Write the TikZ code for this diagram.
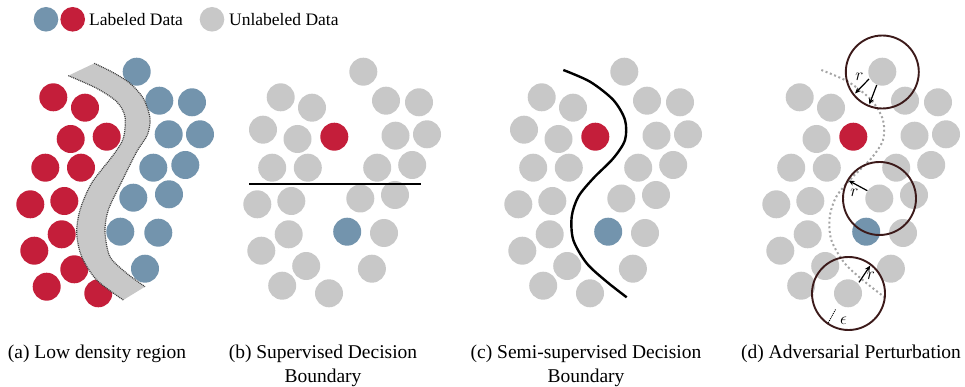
\documentclass[tikz,border=0pt]{standalone}
\usepackage{fontspec}
\setmainfont{Liberation Serif}
\usetikzlibrary{arrows.meta}
\definecolor{lblue}{RGB}{115,148,173}
\definecolor{lred}{RGB}{196,30,58}
\definecolor{lgray}{RGB}{200,200,200}
\definecolor{ringc}{RGB}{60,26,26}
\definecolor{dotc}{RGB}{165,165,165}
\def\grayset{363.3/71.7,280.7/97.3,312/107.7,386/100.7,419/102.3,297.5/139,395.5/135.7,427/134.3,272.2/167.7,307.8/167.7,377.2/167.7,412.2/165,257.3/204.3,291.3/201,360.3/198.5,395/195,288.7/234.3,384/233,261.3/250.7,306.2/266,371.9/268.7,282.2/285.7,329/293.3}
\def\abluepts{136.7/71.7,159.3/100.7,192/102.3,168.7/134.3,200/134.3,153.3/167.7,185.3/165,133.3/197.7,169/194.3,120.3/231.7,158.3/232.7,145/268.7}
\def\aredpts{53.3/97.3,85/107.7,70.7/139,106.7/136.7,45.3/167.7,81/167.7,30.3/204.3,64.3/201,61.7/234.3,34.3/250.7,74.3/269.3,46.7/286.7,98.3/293.3}
\begin{document}
\begin{tikzpicture}[x=1pt,y=-1pt,
  ring/.style={draw=ringc,line width=1.9pt},
  dotcurve/.style={draw=dotc,line width=2pt,dash pattern=on 2pt off 2.6pt},
  bandedge/.style={draw=black!75,line width=1.2pt,dash pattern=on 1pt off 0.9pt},
  rarrow/.style={-{Stealth[length=6pt,width=5pt]},line width=1.2pt},
  boundary/.style={draw=black,line width=2.4pt},
  capt/.style={font=\fontsize{19.5}{24}\selectfont,align=center,anchor=base,inner sep=0pt},
  leg/.style={font=\fontsize{17.5}{20}\selectfont,anchor=base west,inner sep=0pt},
  rlab/.style={font=\fontsize{17}{17}\selectfont,inner sep=0pt}]
\useasboundingbox (0,0) rectangle (965,387);

% legend
\fill[lblue] (46,19.3) circle[radius=12.3];
\fill[lred] (72.7,19.3) circle[radius=12.3];
\node[leg] (legL) at (89,26) {Labeled Data};
\fill[lgray] (212,19.3) circle[radius=12.3];
\node[leg] (legU) at (229,26) {Unlabeled Data};

% panel (a)
\foreach \x/\y in \abluepts {\fill[lblue] (\x,\y) circle[radius=14];}
\foreach \x/\y in \aredpts {\fill[lred] (\x,\y) circle[radius=14];}
\fill[lgray] plot[smooth] coordinates {(94.3,63.3) (113,72.5) (130,83.3) (143.3,98.3) (150,118.3) (147.3,135) (136.7,151.7) (121.5,182) (108.3,210) (105,231.7) (110,256.7) (126.7,273.3) (145,286.7)}
  -- plot[smooth] coordinates {(123.3,300) (96.7,280) (81.7,256.7) (76.7,233.3) (80,210) (91.7,183) (113.3,155) (123.3,138.3) (125,116.7) (116.7,101.7) (96.7,88.3) (68.3,75.7)} -- cycle;
\draw[bandedge] plot[smooth] coordinates {(94.3,63.3) (113,72.5) (130,83.3) (143.3,98.3) (150,118.3) (147.3,135) (136.7,151.7) (121.5,182) (108.3,210) (105,231.7) (110,256.7) (126.7,273.3) (145,286.7)};
\draw[bandedge] plot[smooth] coordinates {(123.3,300) (96.7,280) (81.7,256.7) (76.7,233.3) (80,210) (91.7,183) (113.3,155) (123.3,138.3) (125,116.7) (116.7,101.7) (96.7,88.3) (68.3,75.7)};

% panel (b)
\begin{scope}
\foreach \x/\y in \grayset {\fill[lgray] (\x,\y) circle[radius=14];}
\fill[lgray] (263,129.7) circle[radius=14];
\fill[lred] (334.3,136.7) circle[radius=14];
\fill[lblue] (347.2,231.7) circle[radius=14];
\coordinate (bL) at (249,184);
\coordinate (bR) at (421,184);
\draw[boundary] (bL) -- (bR);
\end{scope}

% panel (c)
\begin{scope}[xshift=261pt]
\foreach \x/\y in \grayset {\fill[lgray] (\x,\y) circle[radius=14];}
\fill[lgray] (263,129.7) circle[radius=14];
\fill[lred] (334.3,136.7) circle[radius=14];
\fill[lblue] (347.2,231.7) circle[radius=14];
\draw[boundary] plot[smooth] coordinates {(302.3,70) (329,81.7) (352.3,100) (364,120) (364,140) (352.3,158.3) (332.3,178.3) (317.3,196.7) (310.7,216.7) (312.3,240) (325.7,263.3) (345.7,281.7) (365.7,297.3)};
\end{scope}

% panel (d)
\begin{scope}[xshift=519pt]
\foreach \x/\y in \grayset {\fill[lgray] (\x,\y) circle[radius=14];}
\fill[lred] (334.3,136.7) circle[radius=14];
\fill[lblue] (347.2,231.7) circle[radius=14];
\draw[dotcurve] plot[smooth] coordinates {(302.3,70) (329,81.7) (352.3,100) (364,120) (364,140) (352.3,158.3) (332.3,178.3) (317.3,196.7) (310.7,216.7) (312.3,240) (325.7,263.3) (345.7,281.7) (365.7,297.3)};
\draw[ring] (363.3,72) circle[radius=36.5];
\draw[ring] (360.5,198.5) circle[radius=36.5];
\draw[ring] (329.5,293.5) circle[radius=36.5];
\end{scope}

% arrows in (d)
\coordinate (a1s) at (869,79);   \coordinate (a1e) at (855,93.5);
\coordinate (a2s) at (876.7,85); \coordinate (a2e) at (869.3,104.5);
\coordinate (a3s) at (867.3,190.7); \coordinate (a3e) at (848.5,180.5);
\coordinate (a4s) at (859,282.3); \coordinate (a4e) at (870.3,265.5);
\coordinate (e1) at (835.5,309.5); \coordinate (e2) at (828.3,322.7);
\draw[rarrow] (a1s) -- (a1e);
\draw[rarrow] (a2s) -- (a2e);
\draw[rarrow] (a3s) -- (a3e);
\draw[rarrow] (a4s) -- (a4e);
\draw[line width=0.9pt,dash pattern=on 1pt off 1pt] (e1) -- (e2);
\node[rlab] (r1) at (859.5,76.5) {$r$};
\node[rlab] (r2) at (854.5,193) {$r$};
\node[rlab] (r3) at (871,276) {$r$};
\node[rlab] (eps) at (843.5,320.5) {$\epsilon$};

% captions
\node[capt] (capa) at (97,358) {(a) Low density region};
\node[capt] (capb) at (323,382) {(b) Supervised Decision\\Boundary};
\node[capt] (capc) at (586,382) {(c) Semi-supervised Decision\\Boundary};
\node[capt] (capd) at (851,358) {(d) Adversarial Perturbation};
\end{tikzpicture}
\end{document}
